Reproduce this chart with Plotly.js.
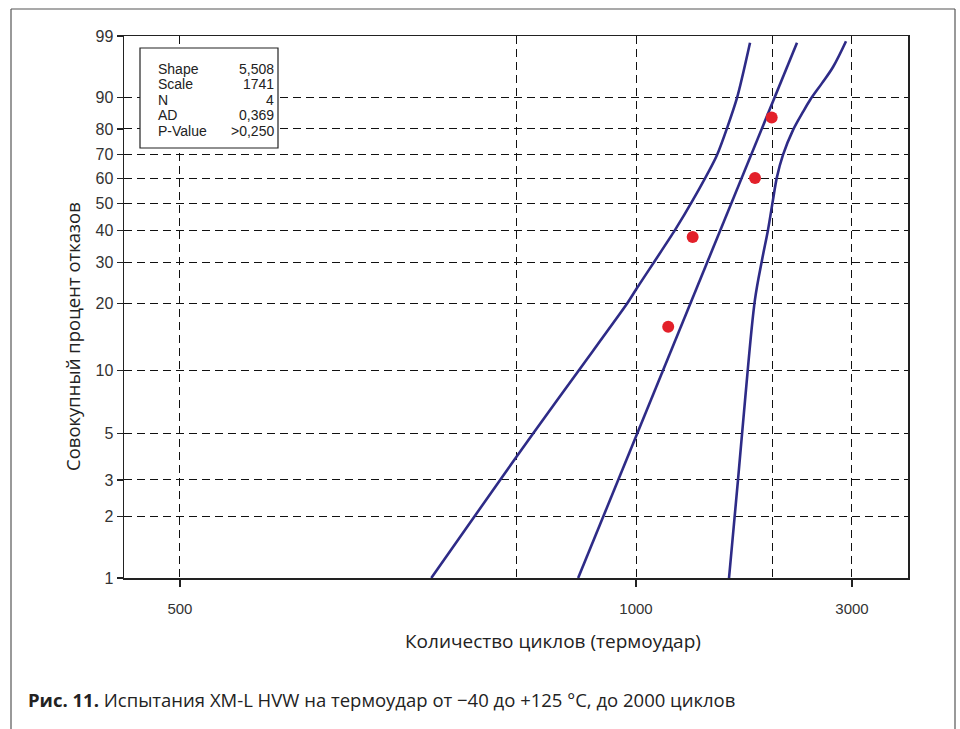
<!DOCTYPE html>
<html>
<head>
<meta charset="utf-8">
<script src="https://cdn.plot.ly/plotly-3.0.1.min.js"></script>
<style>
  html, body { margin: 0; padding: 0; background: #fff; }
  #chart { width: 960px; height: 729px; }
</style>
</head>
<body>
<div id="chart"></div>
<script>
// ---- Data ----
const pointCycles = [1178, 1334, 1832, 1994];
const pointPct    = [15.8, 37.8, 60.3, 84.0];

const fitCycles = [745, 2268];
const fitPct    = [1.0, 98.6];

const lowerCycles = [353, 501, 592, 748, 955, 1005, 1220, 1336, 1510, 1671, 1786];
const lowerPct    = [1.0, 3.0, 5.0, 10.0, 20.0, 23.4, 40.2, 51.4, 69.9, 89.8, 98.6];

const upperCycles = [1605, 1680, 1741, 1831, 1898, 1957, 2007, 2048, 2112, 2222, 2338, 2424, 2576, 2724, 2910];
const upperPct    = [1.0, 3.0, 7.2, 20.8, 30.6, 40.2, 51.4, 60.7, 69.9, 79.6, 85.8, 89.3, 93.3, 96.1, 98.7];

const yTickPct  = [1, 2, 3, 5, 10, 20, 30, 40, 50, 60, 70, 80, 90, 99];
const yTickText = ['1', '2', '3', '5', '10', '20', '30', '40', '50', '60', '70', '80', '90', '99'];

const xTickVals = [98.3, 1000, 3000];
const xTickText = ['500', '1000', '3000'];
const xExtraGrid = [545, 2000];

const statLabels = ['Shape', 'Scale', 'N', 'AD', 'P-Value'];
const statValues = ['5,508', '1741', '4', '0,369', '>0,250'];

const xTitle = 'Количество циклов (термоудар)';
const yTitle = 'Совокупный процент отказов';
const captionBold = 'Рис. 11.';
const captionText = ' Испытания XM-L HVW на термоудар от \u221240 до +125 °C, до 2000 циклов';

// ---- Weibull probability scale transform ----
const wb = p => Math.log(-Math.log(1 - p / 100));

const lineColor = '#2e2b87';
const gridColor = '#111';
const tickFontX = { family: 'Liberation Sans, Arial, sans-serif', size: 15, color: '#333' };
const tickFontY = { family: 'Liberation Sans, Arial, sans-serif', size: 16, color: '#333' };

const traces = [
  { x: lowerCycles, y: lowerPct.map(wb), mode: 'lines', type: 'scatter',
    line: { color: lineColor, width: 2.6, shape: 'spline', smoothing: 0.6 }, hoverinfo: 'skip' },
  { x: fitCycles, y: fitPct.map(wb), mode: 'lines', type: 'scatter',
    line: { color: lineColor, width: 2.6 }, hoverinfo: 'skip' },
  { x: upperCycles, y: upperPct.map(wb), mode: 'lines', type: 'scatter',
    line: { color: lineColor, width: 2.6, shape: 'spline', smoothing: 1 }, hoverinfo: 'skip' },
  { x: pointCycles, y: pointPct.map(wb), mode: 'markers', type: 'scatter',
    marker: { color: '#e3202a', size: 12 }, hoverinfo: 'skip' }
];

// plot area in pixels: left 124, right 908, top 36, bottom 578
const L = 124, R = 908, T = 36, B = 578;
const px = x => (x - L) / (R - L);
const py = y => (B - y) / (B - T);

const annotations = [];
const statY = [69, 84.5, 100, 115.5, 131];
statLabels.forEach((s, i) => {
  annotations.push({ text: s, xref: 'paper', yref: 'paper', x: px(157), y: py(statY[i]),
    xanchor: 'left', yanchor: 'middle', showarrow: false, borderpad: 0,
    font: { family: 'Liberation Sans, Arial, sans-serif', size: 14, color: '#222' } });
  annotations.push({ text: statValues[i], xref: 'paper', yref: 'paper', x: px(275), y: py(statY[i]),
    xanchor: 'right', yanchor: 'middle', showarrow: false, borderpad: 0,
    font: { family: 'Liberation Sans, Arial, sans-serif', size: 14, color: '#222' } });
});
annotations.push({ text: xTitle, xref: 'paper', yref: 'paper', x: px(553), y: py(641),
  xanchor: 'center', yanchor: 'middle', showarrow: false,
  font: { family: 'Open Sans, sans-serif', size: 19, color: '#222' } });
annotations.push({ text: yTitle, xref: 'paper', yref: 'paper', x: px(72), y: py(337),
  xanchor: 'center', yanchor: 'middle', showarrow: false, textangle: -90,
  font: { family: 'Open Sans, sans-serif', size: 18.5, color: '#222' } });
annotations.push({ text: '<b>' + captionBold + '</b>' + captionText, xref: 'paper', yref: 'paper',
  x: px(26), y: py(699), xanchor: 'left', yanchor: 'middle', showarrow: false,
  font: { family: 'Open Sans, sans-serif', size: 18.5, color: '#222' } });

const frameColor = '#555';
const shapes = [
  { type: 'rect', xref: 'paper', yref: 'paper', x0: px(140), x1: px(278), y0: py(148), y1: py(48),
    fillcolor: '#fff', line: { color: '#222', width: 1.2 }, layer: 'above' },
  { type: 'line', xref: 'paper', yref: 'paper', x0: px(11), x1: px(11), y0: py(9), y1: py(740),
    line: { color: frameColor, width: 1.2 } },
  { type: 'line', xref: 'paper', yref: 'paper', x0: px(11), x1: px(955), y0: py(9), y1: py(9),
    line: { color: frameColor, width: 1.2 } },
  { type: 'line', xref: 'paper', yref: 'paper', x0: px(955), x1: px(955), y0: py(9), y1: py(740),
    line: { color: frameColor, width: 1.2 } }
];

const xLeft = 3 + (L - 636) / 452.7;
const xRight = 3 + (R - 636) / 452.7;

const layout = {
  width: 960, height: 729,
  margin: { l: L, r: 960 - R, t: T, b: 729 - B, pad: 0 },
  paper_bgcolor: '#fff', plot_bgcolor: '#fff',
  showlegend: false,
  xaxis: {
    type: 'log', range: [xLeft, xRight],
    tickmode: 'array', tickvals: xTickVals, ticktext: xTickText,
    ticks: 'outside', ticklen: 7, tickwidth: 1.2, tickcolor: '#222',
    ticklabelstandoff: 9,
    showgrid: true, gridcolor: gridColor, gridwidth: 1, griddash: '8px,5px',
    minor: { tickmode: 'array', tickvals: xExtraGrid, showgrid: true, gridcolor: gridColor,
             gridwidth: 1, griddash: '8px,5px', ticks: '' },
    showline: true, mirror: true, linecolor: '#222', linewidth: 1.5,
    zeroline: false, tickfont: tickFontX, fixedrange: true
  },
  yaxis: {
    range: [wb(1), wb(99)],
    tickmode: 'array', tickvals: yTickPct.map(wb), ticktext: yTickText,
    ticks: 'outside', ticklen: 6, tickwidth: 1.2, tickcolor: '#222',
    showgrid: true, gridcolor: gridColor, gridwidth: 1, griddash: '8px,5px',
    showline: true, mirror: true, linecolor: '#222', linewidth: 1.5,
    zeroline: false, tickfont: tickFontY, fixedrange: true
  },
  annotations: annotations,
  shapes: shapes
};

Plotly.newPlot('chart', traces, layout, { staticPlot: true, displayModeBar: false });
</script>
</body>
</html>
